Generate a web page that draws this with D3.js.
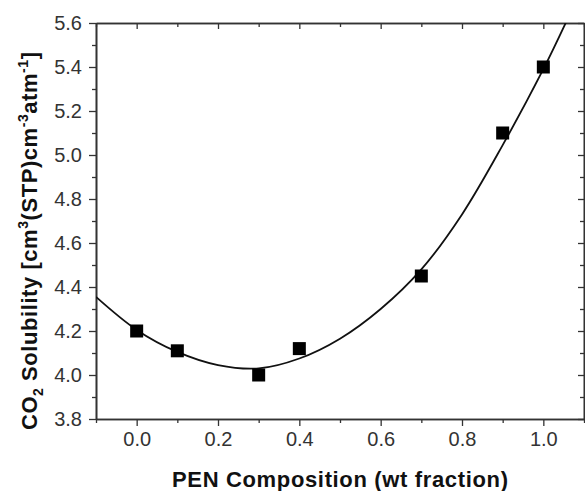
<!DOCTYPE html>
<html>
<head>
<meta charset="utf-8">
<script src="https://cdn.jsdelivr.net/npm/d3@7"></script>
<style>
  body { margin: 0; background: #fff; }
  text { font-family: "Liberation Sans", Arial, sans-serif; }
</style>
</head>
<body>
<svg id="chart" width="585" height="491"></svg>
<script>
// measured points
const penFraction = [0.0, 0.1, 0.3, 0.4, 0.7, 0.9, 1.0];
const solubility = [4.20, 4.11, 4.00, 4.12, 4.45, 5.10, 5.40];

// fitted curve
const fitX = [-0.1, 0.0, 0.1, 0.2, 0.3, 0.4, 0.5, 0.6, 0.7, 0.8, 0.9, 1.0, 1.06];
const fitY = [4.355, 4.205, 4.105, 4.045, 4.03, 4.075, 4.165, 4.30, 4.48, 4.73, 5.045, 5.39, 5.62];

const xTicks = [0.0, 0.2, 0.4, 0.6, 0.8, 1.0];
const yTicks = [3.8, 4.0, 4.2, 4.4, 4.6, 4.8, 5.0, 5.2, 5.4, 5.6];
const xMinor = [-0.1, 0.1, 0.3, 0.5, 0.7, 0.9, 1.1];
const yMinor = [3.9, 4.1, 4.3, 4.5, 4.7, 4.9, 5.1, 5.3, 5.5];

const svg = d3.select("#chart");
const mLeft = 96, mRight = 584, mTop = 23, mBottom = 419;

const x = d3.scaleLinear().domain([-0.1, 1.1]).range([mLeft, mRight]);
const y = d3.scaleLinear().domain([3.8, 5.6]).range([mBottom, mTop]);

const axisColor = "#333";

// bottom axis
svg.append("g").attr("transform", `translate(0,${mBottom})`)
    .call(d3.axisBottom(x).tickValues(xTicks).tickFormat(d3.format(".1f")).tickSizeInner(7).tickSizeOuter(0).tickPadding(6));
svg.append("g").attr("transform", `translate(0,${mBottom})`)
    .call(d3.axisBottom(x).tickValues(xMinor).tickFormat("").tickSizeInner(4).tickSizeOuter(0));

// left axis
svg.append("g").attr("transform", `translate(${mLeft},0)`)
    .call(d3.axisLeft(y).tickValues(yTicks).tickFormat(d3.format(".1f")).tickSizeInner(7).tickSizeOuter(0).tickPadding(7));
svg.append("g").attr("transform", `translate(${mLeft},0)`)
    .call(d3.axisLeft(y).tickValues(yMinor).tickFormat("").tickSizeInner(4).tickSizeOuter(0));

// top and right mirror axes, ticks inward
svg.append("g").attr("transform", `translate(0,${mTop})`)
    .call(d3.axisTop(x).tickValues(xTicks).tickFormat("").tickSizeInner(-6).tickSizeOuter(0));
svg.append("g").attr("transform", `translate(0,${mTop})`)
    .call(d3.axisTop(x).tickValues(xMinor).tickFormat("").tickSizeInner(-4).tickSizeOuter(0));
svg.append("g").attr("transform", `translate(${mRight},0)`)
    .call(d3.axisRight(y).tickValues(yTicks).tickFormat("").tickSizeInner(-6).tickSizeOuter(0));
svg.append("g").attr("transform", `translate(${mRight},0)`)
    .call(d3.axisRight(y).tickValues(yMinor).tickFormat("").tickSizeInner(-4).tickSizeOuter(0));

svg.selectAll(".domain").attr("stroke", axisColor).attr("stroke-width", 1.6);
svg.selectAll(".tick line").attr("stroke", axisColor).attr("stroke-width", 1.3);
svg.selectAll(".tick text").attr("fill", "#333").style("font-size", "20px");

// clip for fit line
svg.append("clipPath").attr("id", "plotClip")
  .append("rect").attr("x", mLeft).attr("y", mTop).attr("width", mRight - mLeft).attr("height", mBottom - mTop);

const fitPts = fitX.map((v, i) => [v, fitY[i]]);
svg.append("path")
    .datum(fitPts)
    .attr("clip-path", "url(#plotClip)")
    .attr("fill", "none")
    .attr("stroke", "#111")
    .attr("stroke-width", 1.8)
    .attr("d", d3.line().x(d => x(d[0])).y(d => y(d[1])).curve(d3.curveCatmullRom));

// squares
const sz = 13;
svg.selectAll(".pt")
    .data(penFraction.map((v, i) => [v, solubility[i]]))
    .enter().append("rect")
    .attr("class", "pt")
    .attr("x", d => x(d[0]) - sz / 2)
    .attr("y", d => y(d[1]) - sz / 2)
    .attr("width", sz).attr("height", sz)
    .attr("fill", "#000");

// x label
svg.append("text")
    .attr("x", 172)
    .attr("y", 487)
    .attr("textLength", 336)
    .attr("lengthAdjust", "spacing")
    .style("font-size", "22px")
    .style("font-weight", "bold")
    .attr("fill", "#111")
    .text("PEN Composition (wt fraction)");

// y label
const yl = svg.append("text")
    .attr("transform", "translate(37,430) rotate(-90)")
    .attr("textLength", 378)
    .attr("lengthAdjust", "spacing")
    .style("font-size", "22px")
    .style("font-weight", "bold")
    .attr("fill", "#111");
yl.append("tspan").text("CO");
yl.append("tspan").attr("dy", 6).style("font-size", "14px").text("2");
yl.append("tspan").attr("dy", -6).text(" Solubility [cm");
yl.append("tspan").attr("dy", -9).style("font-size", "14px").text("3");
yl.append("tspan").attr("dy", 9).text("(STP)cm");
yl.append("tspan").attr("dy", -9).style("font-size", "14px").text("-3");
yl.append("tspan").attr("dy", 9).text("atm");
yl.append("tspan").attr("dy", -9).style("font-size", "14px").text("-1");
yl.append("tspan").attr("dy", 9).text("]");
</script>
</body>
</html>
